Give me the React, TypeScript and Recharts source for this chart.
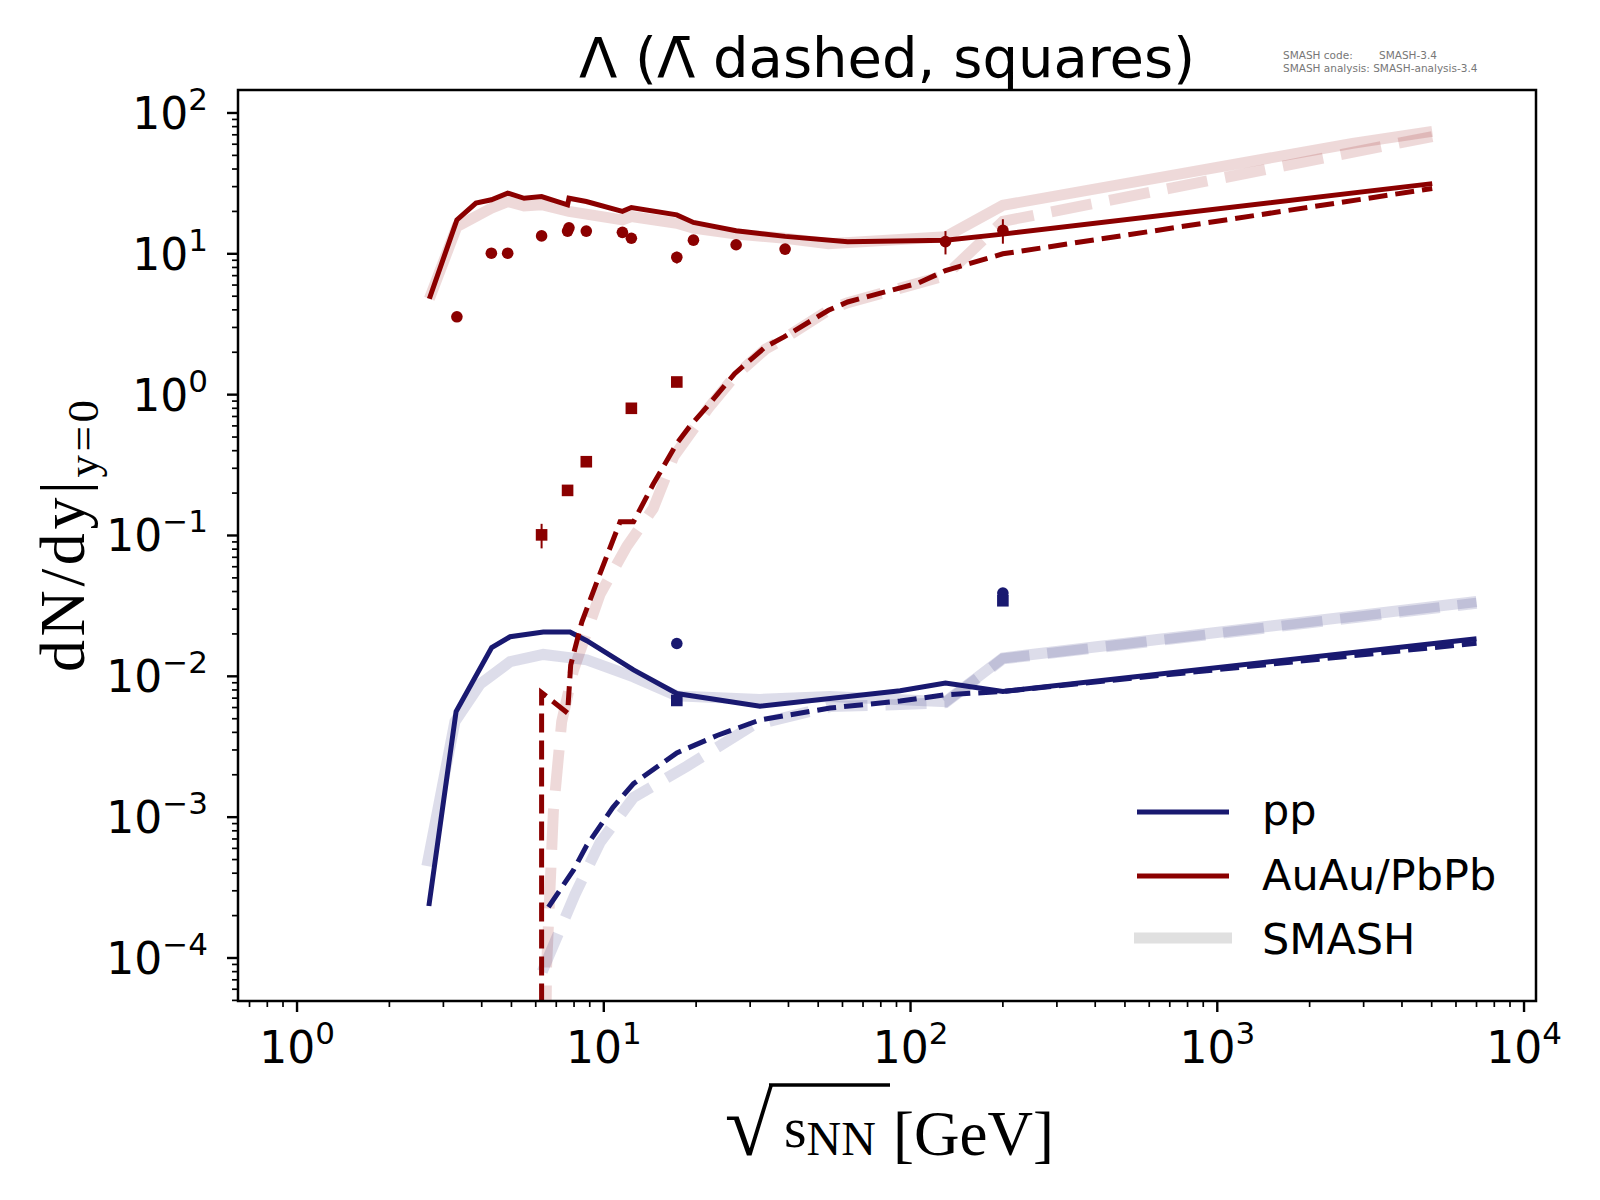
import React from "react";
import {
  ComposedChart,
  Line,
  Scatter,
  ErrorBar,
  XAxis,
  YAxis,
} from "recharts";

const PP = "#191970";
const AA = "#8B0000";

// pp, Lambda (solid) and anti-Lambda (dashed), model curves
const ppLamE = [2.69, 3.3, 4.31, 4.95, 6.35, 7.76, 8.8, 12.5, 17.3, 32.3, 92.5, 130, 200, 7000];
const ppLam = [2.34e-4, 5.63e-3, 1.6e-2, 1.91e-2, 2.06e-2, 2.06e-2, 1.79e-2, 1.11e-2, 7.55e-3, 6.14e-3, 7.9e-3, 8.96e-3, 7.8e-3, 1.85e-2];
const ppAntiE = [6.6, 7.96, 8.8, 10.7, 12.5, 17.3, 23.4, 32.3, 54.7, 92.5, 130, 200, 7000];
const ppAnti = [2.3e-4, 4.2e-4, 6.3e-4, 1.17e-3, 1.73e-3, 2.86e-3, 3.8e-3, 4.9e-3, 5.96e-3, 6.67e-3, 7.4e-3, 7.8e-3, 1.72e-2];

// AuAu/PbPb
const aaLamE = [2.7, 3.32, 3.83, 4.3, 4.86, 5.5, 6.27, 7.62, 7.7, 8.77, 11.5, 12.3, 17.3, 19.6, 27, 39, 62.4, 130, 200, 5020];
const aaLam = [4.8, 17.4, 22.9, 24.2, 27.0, 24.8, 25.5, 22.3, 24.8, 23.5, 20.0, 21.3, 18.9, 16.7, 14.6, 13.3, 12.2, 12.5, 13.8, 31.5];
const aaAntiE = [6.27, 6.27, 7.62, 7.8, 8.48, 9.72, 11.3, 12.5, 14.5, 17.3, 19.0, 21.9, 26.7, 33.6, 38.7, 54, 62.4, 106, 130, 200, 5020];
const aaAnti = [1e-7, 7.67e-3, 5.48e-3, 1.2e-2, 2.43e-2, 5.35e-2, 0.125, 0.125, 0.232, 0.45, 0.59, 0.84, 1.41, 2.18, 2.57, 3.97, 4.55, 6.2, 7.6, 10.0, 29.1];

// SMASH bands
const smAaLamE = [2.7, 3.32, 4.3, 4.86, 5.5, 6.27, 7.7, 11.5, 12.3, 17.3, 19.6, 27, 39, 54, 130, 200, 2760, 5020];
const smAaLam = [4.8, 15.6, 21.1, 23.5, 21.9, 22.3, 20.0, 17.4, 18.4, 16.5, 15.2, 13.8, 12.9, 11.8, 13.2, 22.1, 60.8, 74];
const smAaAntiE = [6.27, 6.51, 6.85, 7.29, 7.96, 9.72, 11.9, 14.5, 16.9, 21.9, 26.7, 33.6, 38.7, 54, 62.4, 130, 200, 5020];
const smAaAnti = [1e-7, 8.7e-5, 1.1e-3, 4.76e-3, 1.1e-2, 3.82e-2, 8.4e-2, 0.156, 0.363, 0.8, 1.35, 2.1, 2.5, 3.97, 4.5, 7.0, 17.0, 68];
const smPpLamE = [2.65, 3.27, 3.95, 4.95, 6.35, 8.8, 12.5, 17.3, 32.3, 54.7, 130, 200, 7000];
const smPpLam = [4.5e-4, 4.76e-3, 8.8e-3, 1.27e-2, 1.43e-2, 1.31e-2, 9.9e-3, 7.26e-3, 6.86e-3, 7.2e-3, 6.6e-3, 1.35e-2, 3.4e-2];
const smPpAntiE = [6.3, 8.06, 9.72, 12.5, 18.6, 30.7, 54.7, 92.5, 130, 200, 7000];
const smPpAnti = [8e-5, 2.83e-4, 6.6e-4, 1.38e-3, 2.29e-3, 4.5e-3, 6.1e-3, 6.3e-3, 6.5e-3, 1.33e-2, 3.3e-2];

// measured points
const aaLamDataE = [3.32, 4.3, 4.86, 6.27, 7.62, 7.7, 8.77, 11.5, 12.3, 17.3, 19.6, 27, 39, 130, 200];
const aaLamData = [3.57, 10.1, 10.1, 13.4, 14.5, 15.3, 14.5, 14.2, 12.9, 9.44, 12.5, 11.6, 10.8, 12.2, 14.7];
const aaLamErr = [0.2, 0.5, 0.8, 0.5, 0.7, 0.6, 0.6, 0.6, 0.6, 0.9, 0.6, 0.5, 0.5, 2.3, 2.9];
const aaAntiDataE = [6.27, 7.62, 8.77, 12.3, 17.3];
const aaAntiData = [0.101, 0.209, 0.334, 0.8, 1.23];
const aaAntiErr = [0.02, 0.01, 0.015, 0.04, 0.1];
const ppDataE = [17.3, 200];
const ppLamData = [0.0171, 0.039];
const ppAntiData = [6.74e-3, 0.0344];

const pts = (xs: number[], ys: number[], err?: number[]) =>
  xs.map((x, i) => ({ x, y: ys[i], err: err ? err[i] : 0 }));

const minorTicks = (lo: number, hi: number) => {
  const out: number[] = [];
  for (let e = -6; e <= 5; e++) {
    for (let m = 1; m <= 9; m++) {
      const v = m * Math.pow(10, e);
      if (v >= lo && v <= hi) out.push(Number(v.toPrecision(3)));
    }
  }
  return out;
};

const X_DOMAIN = [0.642, 10940];
const Y_DOMAIN = [4.95e-5, 145.6];

const isMajor = (v: number) => Math.abs(Math.log10(v) - Math.round(Math.log10(v))) < 1e-6;
const expStr = (v: number) => {
  const e = Math.round(Math.log10(v));
  return e < 0 ? "\u2212" + Math.abs(e) : String(e);
};

const XTick = (props: any) => {
  const { x, y, payload } = props;
  const v = payload.value;
  const major = isMajor(v);
  return (
    <g>
      <line x1={x} x2={x} y1={y} y2={y + (major ? 11 : 6)} stroke="#000" strokeWidth={major ? 2.4 : 1.7} />
      {major && (
        <text x={x} y={y + 62} textAnchor="middle" fontFamily="DejaVu Sans" fontSize={44} fill="#000">
          10<tspan dy={-19} fontSize={31}>{expStr(v)}</tspan>
        </text>
      )}
    </g>
  );
};

const YTick = (props: any) => {
  const { x, y, payload } = props;
  const v = payload.value;
  const major = isMajor(v);
  return (
    <g>
      <line x1={x} x2={x - (major ? 11 : 6)} y1={y} y2={y} stroke="#000" strokeWidth={major ? 2.4 : 1.7} />
      {major && (
        <text x={x - 30} y={y + 16} textAnchor="end" fontFamily="DejaVu Sans" fontSize={44} fill="#000">
          10<tspan dy={-19} fontSize={31}>{expStr(v)}</tspan>
        </text>
      )}
    </g>
  );
};

const circle = (color: string) => (p: any) => <circle cx={p.cx} cy={p.cy} r={5.8} fill={color} />;
const square = (color: string) => (p: any) => (
  <rect x={p.cx - 5.8} y={p.cy - 5.8} width={11.6} height={11.6} fill={color} />
);

export default function App() {
  const xTicks = minorTicks(X_DOMAIN[0], X_DOMAIN[1]);
  const yTicks = minorTicks(Y_DOMAIN[0], Y_DOMAIN[1]);
  const lineCommon = { dot: false, isAnimationActive: false, type: "linear" as const, activeDot: false };
  const smash = { strokeWidth: 11, strokeOpacity: 0.15 };
  return (
    <div style={{ position: "absolute", left: 0, top: 0, width: 1600, height: 1200, background: "#fff" }}>
      <ComposedChart width={1600} height={1200} margin={{ top: 90, right: 64, bottom: 0, left: 0 }}>
        <XAxis
          type="number"
          dataKey="x"
          scale="log"
          domain={X_DOMAIN}
          allowDataOverflow
          ticks={xTicks}
          interval={0}
          height={199}
          axisLine={false}
          tickLine={false}
          tickSize={0}
          tickMargin={0}
          tick={<XTick />}
        />
        <YAxis
          type="number"
          dataKey="y"
          scale="log"
          domain={Y_DOMAIN}
          allowDataOverflow
          ticks={yTicks}
          interval={0}
          width={238}
          axisLine={false}
          tickLine={false}
          tickSize={0}
          tickMargin={0}
          tick={<YTick />}
        />
        {/* SMASH bands */}
        <Line {...lineCommon} data={pts(smAaLamE, smAaLam)} dataKey="y" stroke={AA} {...smash} />
        <Line {...lineCommon} data={pts(smAaAntiE, smAaAnti)} dataKey="y" stroke={AA} {...smash} strokeDasharray="41 18" />
        <Line {...lineCommon} data={pts(smPpLamE, smPpLam)} dataKey="y" stroke={PP} {...smash} />
        <Line {...lineCommon} data={pts(smPpAntiE, smPpAnti)} dataKey="y" stroke={PP} {...smash} strokeDasharray="41 18" />
        {/* curves */}
        <Line {...lineCommon} data={pts(ppLamE, ppLam)} dataKey="y" stroke={PP} strokeWidth={5} />
        <Line {...lineCommon} data={pts(ppAntiE, ppAnti)} dataKey="y" stroke={PP} strokeWidth={5} strokeDasharray="19 8" />
        <Line {...lineCommon} data={pts(aaLamE, aaLam)} dataKey="y" stroke={AA} strokeWidth={5} />
        <Line {...lineCommon} data={pts(aaAntiE, aaAnti)} dataKey="y" stroke={AA} strokeWidth={5} strokeDasharray="19 8" />
        {/* data */}
        <Scatter data={pts(aaLamDataE, aaLamData, aaLamErr)} dataKey="y" isAnimationActive={false} shape={circle(AA)}>
          <ErrorBar dataKey="err" direction="y" width={0} stroke={AA} strokeWidth={2} />
        </Scatter>
        <Scatter data={pts(aaAntiDataE, aaAntiData, aaAntiErr)} dataKey="y" isAnimationActive={false} shape={square(AA)}>
          <ErrorBar dataKey="err" direction="y" width={0} stroke={AA} strokeWidth={2} />
        </Scatter>
        <Scatter data={pts(ppDataE, ppLamData)} dataKey="y" isAnimationActive={false} shape={circle(PP)} />
        <Scatter data={pts(ppDataE, ppAntiData)} dataKey="y" isAnimationActive={false} shape={square(PP)} />
      </ComposedChart>
      <svg width={1600} height={1200} style={{ position: "absolute", left: 0, top: 0, pointerEvents: "none" }}>
        <rect x={238} y={90} width={1298} height={911} fill="none" stroke="#000" strokeWidth={2.5} />
        <text x={887} y={77} textAnchor="middle" fontFamily="DejaVu Sans" fontSize={56} fill="#000">
          Λ (Λ̄ dashed, squares)
        </text>
        <g fontFamily="DejaVu Sans" fontSize={10.5} fill="#777">
          <text x={1283} y={59}>SMASH code:</text>
          <text x={1379} y={59}>SMASH-3.4</text>
          <text x={1283} y={72}>SMASH analysis: SMASH-analysis-3.4</text>
        </g>
        {/* legend */}
        <line x1={1137} x2={1229} y1={812} y2={812} stroke={PP} strokeWidth={5} />
        <line x1={1137} x2={1229} y1={876} y2={876} stroke={AA} strokeWidth={5} />
        <line x1={1134} x2={1232} y1={938} y2={938} stroke="#e0e0e0" strokeWidth={11} />
        <g fontFamily="DejaVu Sans" fontSize={43} fill="#000">
          <text x={1262} y={825}>pp</text>
          <text x={1262} y={890}>AuAu/PbPb</text>
          <text x={1262} y={954}>SMASH</text>
        </g>
        {/* axis labels */}
        <text
          transform="translate(84,536) rotate(-90)"
          textAnchor="middle"
          fontFamily="Liberation Serif"
          fontSize={64}
          fill="#000"
          textLength={272}
          lengthAdjust="spacing"
        >
          dN/dy|<tspan dy={14} fontSize={45}>y=0</tspan>
        </text>
        <text x={773} y={1155} textAnchor="end" fontFamily="Liberation Serif" fontSize={88} fill="#000">√</text>
        <line x1={769} x2={890} y1={1085} y2={1085} stroke="#000" strokeWidth={3.5} />
        <text x={784} y={1147} fontFamily="Liberation Serif" fontSize={58} fill="#000">
          s<tspan dy={8} fontSize={48}>NN</tspan>
        </text>
        <text x={893} y={1155} fontFamily="Liberation Serif" fontSize={63} fill="#000">[GeV]</text>
      </svg>
    </div>
  );
}
